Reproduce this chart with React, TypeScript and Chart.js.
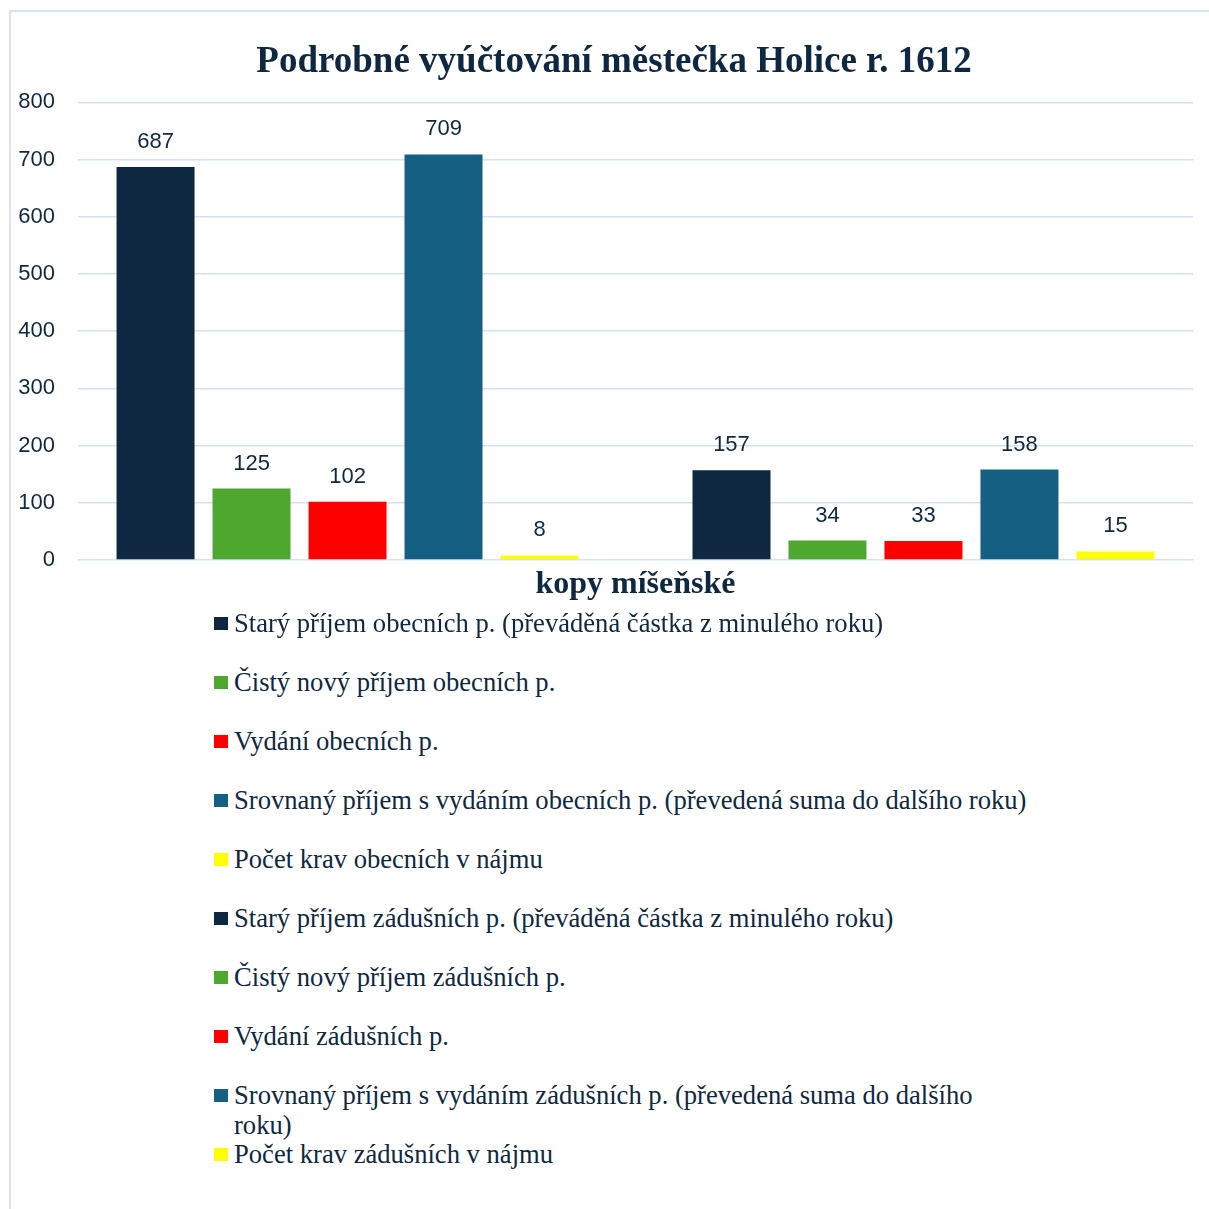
import React, { useEffect, useRef } from "react";
import { Chart, registerables } from "chart.js";

Chart.register(...registerables);

const TITLE = "Podrobné vyúčtování městečka Holice r. 1612";
const CATEGORIES = ["kopy míšeňské"];
const SERIES_NAMES = [
  "Starý příjem obecních p. (převáděná částka z minulého roku)",
  "Čistý nový příjem obecních p.",
  "Vydání obecních p.",
  "Srovnaný příjem s vydáním obecních p. (převedená suma do dalšího roku)",
  "Počet krav obecních v nájmu",
  "Starý příjem zádušních p. (převáděná částka z minulého roku)",
  "Čistý nový příjem zádušních p.",
  "Vydání zádušních p.",
  "Srovnaný příjem s vydáním zádušních p. (převedená suma do dalšího roku)",
  "Počet krav zádušních v nájmu",
];
const SERIES_VALUES = [687, 125, 102, 709, 8, 157, 34, 33, 158, 15];
const SERIES_COLORS = [
  "#0E2841",
  "#4EA72E",
  "#FF0000",
  "#156082",
  "#FFFF00",
  "#0E2841",
  "#4EA72E",
  "#FF0000",
  "#156082",
  "#FFFF00",
];
// an empty slot sits between the two groups in the original chart
const GAP_AFTER_INDEX = 4;
const Y_MIN = 0;
const Y_MAX = 800;
const Y_STEP = 100;

const TEXT_COLOR = "#0E2841";
const GRID_COLOR = "#D3E1F3";
const SERIF = "'Liberation Serif', 'Times New Roman', serif";
const SANS = "'Liberation Sans', Arial, sans-serif";

const valueLabels = {
  id: "valueLabels",
  afterDatasetsDraw(chart: any) {
    const ctx = chart.ctx;
    ctx.save();
    ctx.font = `22px ${SANS}`;
    ctx.fillStyle = TEXT_COLOR;
    ctx.textAlign = "center";
    ctx.textBaseline = "alphabetic";
    chart.data.datasets.forEach((ds: any, i: number) => {
      const meta = chart.getDatasetMeta(i);
      meta.data.forEach((el: any, j: number) => {
        const v = ds.data[j];
        if (v === null || v === undefined) return;
        ctx.fillText(String(v), el.x, el.y - 19);
      });
    });
    ctx.restore();
  },
};

export default function App() {
  const canvasRef = useRef<HTMLCanvasElement | null>(null);

  useEffect(() => {
    if (!canvasRef.current) return;
    const datasets: any[] = [];
    SERIES_NAMES.forEach((name, i) => {
      datasets.push({
        label: name,
        data: [SERIES_VALUES[i]],
        backgroundColor: SERIES_COLORS[i],
        borderWidth: 0,
      });
      if (i === GAP_AFTER_INDEX) {
        datasets.push({ label: "", data: [null], backgroundColor: "transparent" });
      }
    });
    const chart = new Chart(canvasRef.current, {
      type: "bar",
      data: { labels: CATEGORIES, datasets },
      plugins: [valueLabels],
      options: {
        responsive: false,
        animation: false,
        devicePixelRatio: 1,
        layout: { padding: 0 },
        datasets: { bar: { categoryPercentage: 0.947, barPercentage: 0.8125 } },
        plugins: {
          legend: { display: false },
          tooltip: { enabled: false },
          title: {
            display: true,
            text: TITLE,
            color: TEXT_COLOR,
            font: { family: SERIF, size: 37, weight: "bold" },
            padding: { top: 40, bottom: 18 },
          },
        },
        scales: {
          x: {
            grid: { display: false, drawTicks: false },
            border: { display: false },
            ticks: {
              color: TEXT_COLOR,
              font: { family: SERIF, size: 32, weight: "bold" },
              padding: 6,
            },
            afterFit(scale: any) {
              scale.height = 61;
            },
          },
          y: {
            position: "left",
            min: Y_MIN,
            max: Y_MAX,
            grid: { color: GRID_COLOR, lineWidth: 1.5, drawTicks: false },
            border: { display: false },
            ticks: {
              stepSize: Y_STEP,
              color: TEXT_COLOR,
              font: { family: SANS, size: 22 },
              padding: 23,
            },
            afterFit(scale: any) {
              scale.width = 78;
            },
          },
          yRight: {
            position: "right",
            display: true,
            grid: { display: false, drawTicks: false },
            border: { display: false },
            ticks: { display: false },
            afterFit(scale: any) {
              scale.width = 35;
            },
          },
        },
      } as any,
    });
    return () => chart.destroy();
  }, []);

  return (
    <div
      style={{
        position: "absolute",
        left: 0,
        top: 0,
        width: 1209,
        height: 1209,
        overflow: "hidden",
        background: "#fff",
      }}
    >
      <div
        style={{
          position: "absolute",
          left: 9,
          top: 10,
          width: 1300,
          height: 1300,
          border: "2px solid #D5E3F5",
          boxSizing: "border-box",
        }}
      />
      <canvas
        ref={canvasRef}
        width={1228}
        height={621}
        style={{ position: "absolute", left: 0, top: 0, width: 1228, height: 621 }}
      />
      {SERIES_NAMES.map((name, i) => (
        <div
          key={i}
          style={{
            position: "absolute",
            left: 214,
            top: 608 + 59 * i,
            fontFamily: SERIF,
            fontSize: 26.6,
            lineHeight: "30px",
            color: TEXT_COLOR,
          }}
        >
          <span
            style={{
              position: "absolute",
              left: 0,
              top: 9,
              width: 14,
              height: 13,
              background: SERIES_COLORS[i],
            }}
          />
          <div style={{ marginLeft: 20, width: 797 }}>{name}</div>
        </div>
      ))}
    </div>
  );
}
